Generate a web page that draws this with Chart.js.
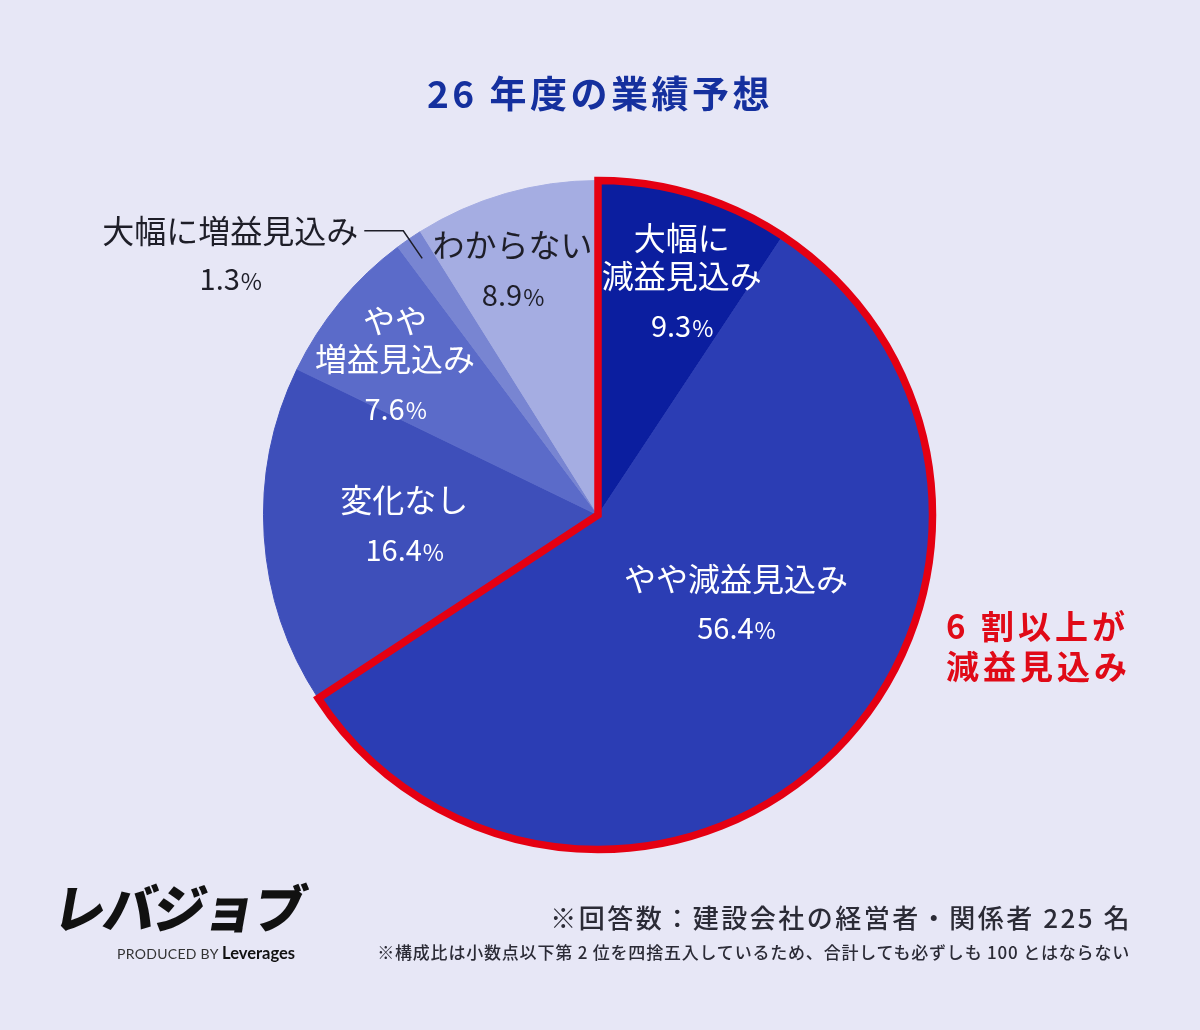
<!DOCTYPE html>
<html lang="ja">
<head>
<meta charset="utf-8">
<script src="https://cdn.jsdelivr.net/npm/chart.js@4.4.1/dist/chart.umd.min.js"></script>
<style>
    body { margin: 0; background: #e7e7f6; font-family: 'Noto Sans CJK JP', 'Noto Sans', sans-serif; }
    #wrap { position: relative; width: 1200px; height: 1030px; overflow: hidden; }
    #wrap canvas { position: absolute; left: 0; top: 0; }
    .title { position: absolute; left: 0; top: 69px; width: 1200px; text-align: center; font-size: 37px; line-height: 46px; font-weight: 700; letter-spacing: 3.5px; color: #15309e; }
    .callout { position: absolute; left: 946px; top: 605px; font-size: 33px; line-height: 40px; font-weight: 700; letter-spacing: 4px; color: #e00a17; }
    .note1 { position: absolute; right: 68px; top: 901px; font-size: 26px; line-height: 32px; font-weight: 500; letter-spacing: 2.5px; color: #2b2b36; }
    .note2 { position: absolute; right: 70px; top: 941px; font-size: 17px; line-height: 22px; font-weight: 500; letter-spacing: 0.8px; color: #2b2b36; }
    .logo { position: absolute; left: 55px; top: 876px; font-size: 52px; line-height: 60px; font-weight: 900; letter-spacing: -2px; color: #111; transform: skewX(-10deg); }
    .produced { position: absolute; left: 117px; top: 943px; font-family: 'Lato', 'Noto Sans', sans-serif; font-size: 14px; line-height: 20px; color: #333; letter-spacing: 0.3px; }
    .produced b { font-size: 16.5px; color: #111; letter-spacing: 0; }
</style>
</head>
<body>
<div id="wrap">
    <canvas id="pieChart"></canvas>
    <div class="title">26 年度の業績予想</div>
    <div class="callout">6 割以上が<br>減益見込み</div>
    <div class="note1">※回答数：建設会社の経営者・関係者 225 名</div>
    <div class="note2">※構成比は小数点以下第 2 位を四捨五入しているため、合計しても必ずしも 100 とはならない</div>
    <div class="logo">レバジョブ</div>
    <div class="produced">PRODUCED BY <b>Leverages</b></div>
</div>
<script>
const categories = ['大幅に減益見込み', 'やや減益見込み', '変化なし', 'やや増益見込み', '大幅に増益見込み', 'わからない'];
const shares = [9.3, 56.4, 16.4, 7.6, 1.3, 8.9];
const labelLines = [['大幅に', '減益見込み'], ['やや減益見込み'], ['変化なし'], ['やや', '増益見込み'], ['大幅に増益見込み'], ['わからない']];
const sliceColors = ['#0b1e9f', '#2b3db4', '#3e4fba', '#5b6bc9', '#7885d2', '#a5ade2'];
const highlighted = [0, 1];

// where each label sits: fraction of radius + angle shift (deg) from slice middle; null = outside with leader
const labelPlace = [
    { r: 0.74, d: 3, color: '#ffffff' },
    { r: 0.49, d: -12.5, color: '#ffffff' },
    { r: 0.58, d: 0.7, color: '#ffffff' },
    { r: 0.755, d: -3, color: '#ffffff' },
    null,
    { r: 0.775, d: -3.2, color: '#1e1e28' }
];

const FONT = "'Noto Sans CJK JP', 'Noto Sans', sans-serif";

function drawPct(ctx, value, x, y, color) {
    const num = value.toFixed(1);
    ctx.font = '400 29px ' + FONT;
    const w1 = ctx.measureText(num).width;
    ctx.font = '400 23px ' + FONT;
    const w2 = ctx.measureText('%').width;
    const left = x - (w1 + w2) / 2;
    ctx.fillStyle = color;
    ctx.textAlign = 'left';
    ctx.textBaseline = 'middle';
    ctx.font = '400 29px ' + FONT;
    ctx.fillText(num, left, y);
    ctx.font = '400 23px ' + FONT;
    ctx.fillText('%', left + w1 + 1, y + 2);
}

const pieExtras = {
    id: 'pieExtras',
    afterDatasetsDraw(chart) {
        const ctx = chart.ctx;
        const arcs = chart.getDatasetMeta(0).data;

        // red outline round the decrease slices
        const first = arcs[highlighted[0]];
        const last = arcs[highlighted[highlighted.length - 1]];
        ctx.save();
        ctx.beginPath();
        ctx.moveTo(first.x, first.y);
        ctx.arc(first.x, first.y, first.outerRadius, first.startAngle, last.endAngle);
        ctx.closePath();
        ctx.lineWidth = 7.5;
        ctx.lineJoin = 'miter';
        ctx.strokeStyle = '#e50012';
        ctx.stroke();
        ctx.restore();

        arcs.forEach((arc, i) => {
            const mid = (arc.startAngle + arc.endAngle) / 2;
            const place = labelPlace[i];
            const lines = labelLines[i];
            ctx.save();
            if (place) {
                const ang = mid + place.d * Math.PI / 180;
                const cx = arc.x + Math.cos(ang) * arc.outerRadius * place.r;
                const cy = arc.y + Math.sin(ang) * arc.outerRadius * place.r;
                const span = (lines.length - 1) * 38 + 50;
                let y = cy - span / 2;
                ctx.fillStyle = place.color;
                ctx.textAlign = 'center';
                ctx.textBaseline = 'middle';
                ctx.font = '400 32px ' + FONT;
                lines.forEach((t, k) => {
                    ctx.fillText(t, cx, y + k * 38);
                });
                drawPct(ctx, shares[i], cx, y + (lines.length - 1) * 38 + 50, place.color);
            } else {
                // outside label with leader line
                const R = arc.outerRadius;
                const p1x = arc.x + Math.cos(mid) * R * 0.93, p1y = arc.y + Math.sin(mid) * R * 0.93;
                const p2x = arc.x + Math.cos(mid) * R * 1.03, p2y = arc.y + Math.sin(mid) * R * 1.03;
                const p3x = p2x - 39;
                ctx.beginPath();
                ctx.moveTo(p1x, p1y);
                ctx.lineTo(p2x, p2y);
                ctx.lineTo(p3x, p2y);
                ctx.lineWidth = 1.5;
                ctx.strokeStyle = '#1e1e28';
                ctx.stroke();
                ctx.font = '400 32px ' + FONT;
                ctx.fillStyle = '#1e1e28';
                ctx.textAlign = 'right';
                ctx.textBaseline = 'middle';
                const w = ctx.measureText(lines[0]).width;
                const right = p3x - 6;
                ctx.fillText(lines[0], right, p2y);
                drawPct(ctx, shares[i], right - w / 2, p2y + 48, '#1e1e28');
            }
            ctx.restore();
        });
    }
};

document.addEventListener('DOMContentLoaded', function() {
    const ctx = document.getElementById('pieChart').getContext('2d');
    document.getElementById('pieChart').width = 1200;
    document.getElementById('pieChart').height = 1030;
    new Chart(ctx, {
        type: 'pie',
        data: {
            labels: categories,
            datasets: [{
                data: shares,
                backgroundColor: sliceColors,
                borderColor: sliceColors,
                borderWidth: 1
            }]
        },
        options: {
            responsive: false,
            animation: false,
            layout: { padding: { top: 180, bottom: 180, left: 263, right: 267 } },
            plugins: {
                legend: { display: false },
                tooltip: { enabled: false }
            }
        },
        plugins: [pieExtras]
    });
});
</script>
</body>
</html>
